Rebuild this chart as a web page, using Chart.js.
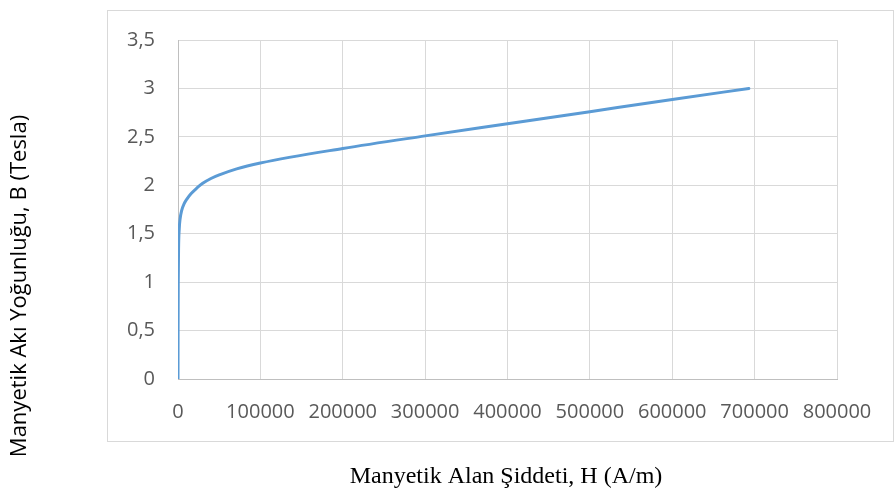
<!DOCTYPE html>
<html>
<head>
<meta charset="utf-8">
<script src="https://cdn.jsdelivr.net/npm/chart.js@4.4.1/dist/chart.umd.min.js"></script>
<style>
html,body{margin:0;padding:0;background:#fff;}
#wrap{width:894px;height:495px;position:relative;}
</style>
</head>
<body>
<div id="wrap"><canvas id="c" width="894" height="495"></canvas></div>
<script>
// Data (H in A/m, B in Tesla)
const fieldH = [0, 100, 300, 700, 1500, 2500, 4500, 7500, 11000, 16000, 22700, 30000, 40000, 51000, 71200, 100000, 200000, 300000, 400000, 500000, 600000, 693000];
const fluxB  = [0, 0.5, 1.0, 1.35, 1.55, 1.65, 1.74, 1.81, 1.86, 1.915, 1.97, 2.02, 2.07, 2.11, 2.17, 2.23, 2.38, 2.51, 2.635, 2.76, 2.885, 3.0];
const xTicks = [0, 100000, 200000, 300000, 400000, 500000, 600000, 700000, 800000];
const yTicks = [0, 0.5, 1, 1.5, 2, 2.5, 3, 3.5];
const yTitle = "Manyetik Akı Yoğunluğu, B (Tesla)";
const xTitle = "Manyetik Alan Şiddeti, H (A/m)";

const points = fieldH.map((h, i) => ({x: h, y: fluxB[i]}));

const decorPlugin = {
  id: 'decor',
  beforeDraw(chart) {
    const ctx = chart.ctx;
    ctx.save();
    ctx.fillStyle = '#fff';
    ctx.fillRect(0, 0, chart.width, chart.height);
    ctx.strokeStyle = '#d9d9d9';
    ctx.lineWidth = 1;
    ctx.strokeRect(107.5, 10.5, 786, 431);
    ctx.restore();
  },
  afterDraw(chart) {
    const ctx = chart.ctx;
    ctx.save();
    ctx.fillStyle = '#000';
    ctx.textAlign = 'center';
    ctx.textBaseline = 'middle';
    ctx.font = '22px "Open Sans"';
    ctx.translate(20, 286);
    ctx.rotate(-Math.PI / 2);
    ctx.fillText(yTitle, 0, 0);
    ctx.restore();
    ctx.save();
    ctx.fillStyle = '#000';
    ctx.textAlign = 'center';
    ctx.textBaseline = 'middle';
    ctx.font = '24px "Liberation Serif"';
    ctx.fillText(xTitle, 506, 477);
    ctx.restore();
  }
};

new Chart(document.getElementById('c'), {
  type: 'line',
  data: {
    datasets: [{
      data: points,
      borderColor: '#5B9BD5',
      borderWidth: 3,
      pointRadius: 0,
      fill: false,
      cubicInterpolationMode: 'monotone',
      borderCapStyle: 'round',
      borderJoinStyle: 'round'
    }]
  },
  plugins: [decorPlugin],
  options: {
    responsive: false,
    animation: false,
    devicePixelRatio: 1,
    layout: {padding: {left: 0, right: 57, top: 40, bottom: 0}},
    plugins: {legend: {display: false}, tooltip: {enabled: false}},
    scales: {
      x: {
        type: 'linear',
        min: 0, max: 800000,
        afterFit(s) { s.height = 116; },
        afterBuildTicks(s) { s.ticks = xTicks.map(v => ({value: v})); },
        grid: {color: '#d9d9d9', lineWidth: 1, drawTicks: false},
        border: {color: '#bfbfbf', width: 1},
        ticks: {
          padding: 21, color: '#595959', font: {family: '"Open Sans"', size: 20},
          maxRotation: 0, autoSkip: false,
          callback: v => String(v)
        }
      },
      y: {
        type: 'linear',
        min: 0, max: 3.5,
        afterFit(s) { s.width = 178; },
        afterBuildTicks(s) { s.ticks = yTicks.map(v => ({value: v})); },
        grid: {color: '#d9d9d9', lineWidth: 1, drawTicks: false},
        border: {color: '#bfbfbf', width: 1},
        ticks: {
          padding: 23, color: '#595959', font: {family: '"Open Sans"', size: 20},
          autoSkip: false,
          callback: v => String(v).replace('.', ',')
        }
      }
    }
  }
});
</script>
</body>
</html>
